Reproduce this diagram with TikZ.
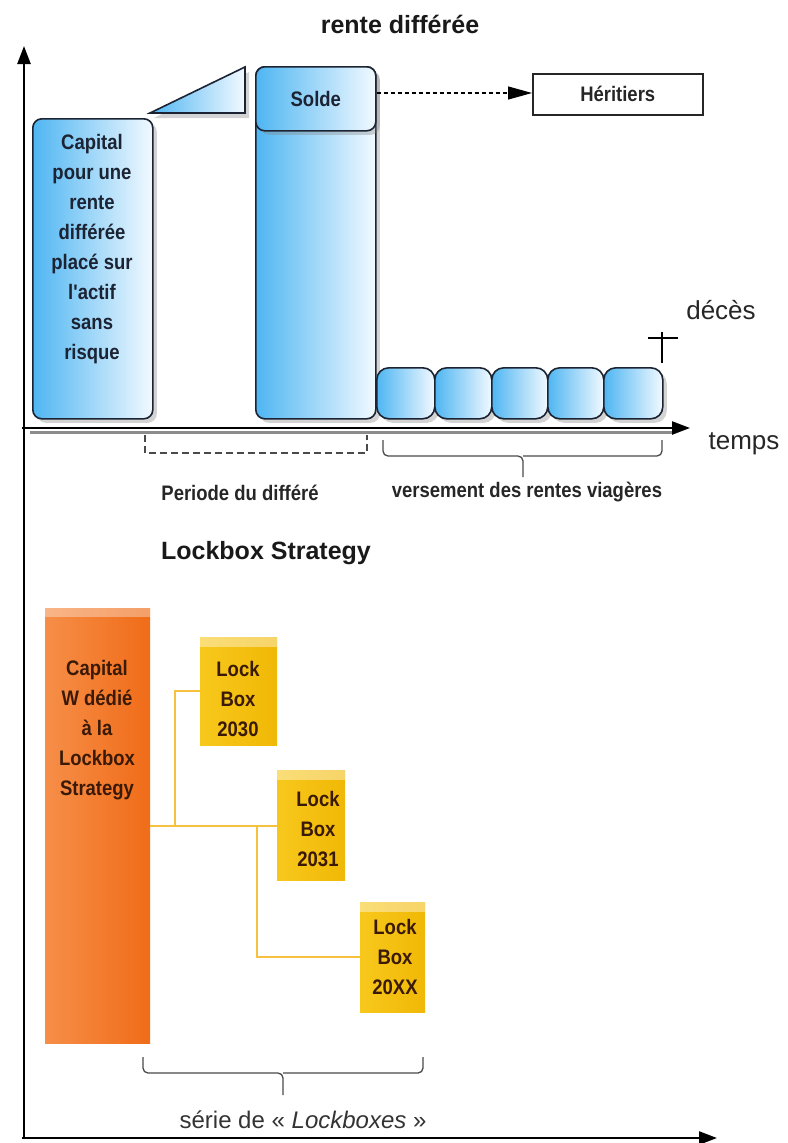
\documentclass[tikz,border=0pt]{standalone}
\usepackage{fontspec}
\setmainfont{Liberation Sans}
\newfontfamily\condfont[FakeStretch=0.88]{Liberation Sans}
\usetikzlibrary{shadows,arrows.meta,calc}
\definecolor{blueL}{HTML}{4FB6F2}
\definecolor{blueR}{HTML}{F2F9FF}
\definecolor{navy}{HTML}{1C2433}
\definecolor{orL}{HTML}{F68E48}
\definecolor{orR}{HTML}{F06C18}
\definecolor{yelL}{HTML}{F7C81C}
\definecolor{yelR}{HTML}{F1B806}
\definecolor{connC}{HTML}{F6C040}
\definecolor{brownT}{HTML}{3A1A06}
\definecolor{braceC}{HTML}{4A4A4A}
\begin{document}
\begin{tikzpicture}[x=1pt,y=-1pt,
  bluebox/.style={draw=navy, line width=1.6pt, rounded corners=9pt, left color=blueL, right color=blueR,
    drop shadow={shadow xshift=4pt, shadow yshift=-4pt, opacity=0.35}, inner sep=0pt, anchor=north west},
  boxtext/.style={font=\condfont\bfseries\fontsize{21}{30}\selectfont, text=navy, align=center, inner sep=0pt},
  lbtext/.style={boxtext, text=brownT},
  orbox/.style={left color=orL, right color=orR, inner sep=0pt, anchor=north west,
    path picture={\fill[white,opacity=0.35] (path picture bounding box.north west) rectangle ([yshift=-9pt]path picture bounding box.north east);}},
  yelbox/.style={left color=yelL, right color=yelR, inner sep=0pt, anchor=north west,
    path picture={\fill[white,opacity=0.4] (path picture bounding box.north west) rectangle ([yshift=-10pt]path picture bounding box.north east);}},
  conn/.style={draw=connC, line width=2pt},
  axis/.style={draw=black, line width=2.4pt},
  brk/.style={draw=braceC, line width=1.3pt, rounded corners=5pt},
  plain/.style={font=\fontsize{26}{30}\selectfont, text=black!85, inner sep=0pt},
  lbl/.style={font=\condfont\bfseries\fontsize{21}{30}\selectfont, text=black!85, inner sep=0pt},
  title/.style={font=\bfseries\fontsize{25}{30}\selectfont, text=black!90, inner sep=0pt}
]
\useasboundingbox (0,0) rectangle (787,1143);

% ---------- top part ----------
\node[title] (t1) at (400,24) {rente différée};

% axes
\coordinate (O) at (24,1138);
\coordinate (ytop) at (24,46);
\coordinate (O1) at (22,428);
\coordinate (xend) at (690,428);
\coordinate (x2end) at (717,1138);
\draw[black!45, line width=3pt] (30,432) -- (672,432);
\draw[axis, -{Triangle[length=18pt,width=13pt]}] (O1) -- (xend);
\draw[axis, -{Triangle[length=18pt,width=13pt]}] (O) -- (ytop);
\draw[axis, -{Triangle[length=18pt,width=13pt]}] (22,1138) -- (x2end);

% capital box
\node[bluebox, minimum width=120pt, minimum height=300pt] (cap) at (32,118) {};
\node[boxtext, anchor=north] (captxt) at (92,134) {Capital\\pour une\\rente\\différée\\placé sur\\l'actif\\sans\\risque};

% triangle
\coordinate (ta) at (150,113);
\coordinate (tb) at (245,67);
\coordinate (tc) at (245,113);
\draw[draw=navy, line width=1.6pt, left color=blueL, right color=blueR,
  drop shadow={shadow xshift=4pt, shadow yshift=-5pt, opacity=0.35}] (ta) -- (tb) -- (tc) -- cycle;

% solde box
\node[bluebox, minimum width=120pt, minimum height=352pt] (soldebox) at (255,66) {};
\node[bluebox, drop shadow={opacity=0}, minimum width=120pt, minimum height=64pt] (solde) at (255,66) {};
\node[boxtext] (soldetxt) at (solde.center) {Solde};

% heritiers
\node[draw=black!85, line width=1.5pt, minimum width=170pt, minimum height=41pt, anchor=north west, inner sep=0pt] (her) at (532,73) {};
\node[lbl] (hertxt) at (her.center) {Héritiers};
\draw[black, line width=1.2pt, dash pattern=on 4pt off 3pt, -{Triangle[length=24pt,width=13pt]}] (solde.east |- 0,93) -- (her.west |- 0,93);

% rente boxes
\node[bluebox, rounded corners=12pt, minimum width=58pt, minimum height=51pt] (r1) at (376,367) {};
\node[bluebox, rounded corners=12pt, minimum width=57pt, minimum height=51pt] (r2) at (434,367) {};
\node[bluebox, rounded corners=12pt, minimum width=56pt, minimum height=51pt] (r3) at (491,367) {};
\node[bluebox, rounded corners=12pt, minimum width=56pt, minimum height=51pt] (r4) at (547,367) {};
\node[bluebox, rounded corners=12pt, minimum width=59pt, minimum height=51pt] (r5) at (603,367) {};

% cross and deces
\coordinate (cx1) at (662,332);
\coordinate (cx2) at (662,363);
\coordinate (cy1) at (648,338);
\coordinate (cy2) at (678,338);
\draw[black, line width=1.3pt] (cx1) -- (cx2);
\draw[black, line width=1.3pt] (cy1) -- (cy2);
\node[plain] (deces) at (721,310) {décès};
\node[plain] (temps) at (744,444) {temps};

% periode bracket
\coordinate (pa) at (145,435);
\coordinate (pb) at (367,435);
\draw[braceC, line width=1.3pt, dash pattern=on 7pt off 4pt] (pa) -- (145,453) -- (367,453) -- (pb);
\node[lbl] (periode) at (240,493) {Periode du différé};

% rentes brace
\coordinate (ba) at (383,440);
\coordinate (bb) at (662,440);
\coordinate (bt) at (523,477);
\draw[brk] (ba) |- (bt |- 0,456) -- (bt);
\draw[brk] (bb) |- (bt |- 0,456);
\node[lbl] (vers) at (527,492) {versement des rentes viagères};

% ---------- lower part ----------
\node[title] (t2) at (266,553) {Lockbox Strategy};

\node[orbox, minimum width=105pt, minimum height=435pt] (lockcap) at (45,608) {};
\node[lbtext, anchor=north] (lockcaptxt) at (97,660) {Capital\\W dédié\\à la\\Lockbox\\Strategy};

\node[yelbox, minimum width=77pt, minimum height=108pt] (l30) at (200,637) {};
\node[lbtext, anchor=north] (l30txt) at (238,661) {Lock\\Box\\2030};
\node[yelbox, minimum width=68pt, minimum height=110pt] (l31) at (277,770) {};
\node[lbtext, anchor=north] (l31txt) at (318,791) {Lock\\Box\\2031};
\node[yelbox, minimum width=65pt, minimum height=110pt] (l2x) at (360,902) {};
\node[lbtext, anchor=north] (l2xtxt) at (395,919) {Lock\\Box\\20XX};

% connectors
\coordinate (j1) at (175,826);
\coordinate (j2) at (257,826);
\draw[conn] (lockcap.east |- j1) -- (l31.west |- j1);
\draw[conn] (j1) |- (l30.west);
\draw[conn] (j2) |- (l2x.west);

% lockboxes brace
\coordinate (la) at (143,1057);
\coordinate (lb) at (423,1057);
\coordinate (lt) at (283,1095);
\draw[brk] (la) |- (lt |- 0,1073) -- (lt);
\draw[brk] (lb) |- (lt |- 0,1073);
\node[font=\fontsize{24}{28}\selectfont, text=black!80, inner sep=0pt] (serie) at (303,1120) {série de « \textit{Lockboxes} »};
\end{tikzpicture}
\end{document}
